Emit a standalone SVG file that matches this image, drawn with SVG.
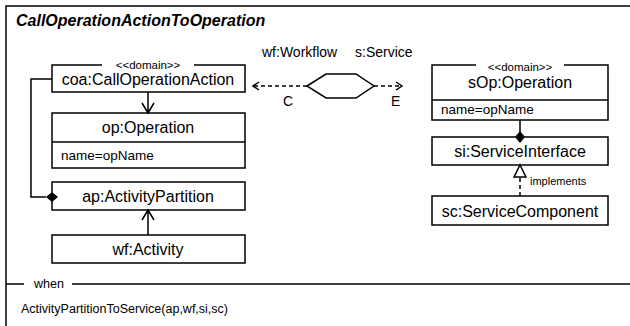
<svg xmlns="http://www.w3.org/2000/svg" width="630" height="326" viewBox="0 0 630 326">
<style>
text{font-family:"Liberation Sans",Arial,sans-serif;fill:#000}
.box{fill:#fff;stroke:#000;stroke-width:1.5}
.ln{fill:none;stroke:#000;stroke-width:1.5}
.dash{fill:none;stroke:#000;stroke-width:1.5;stroke-dasharray:4 3}
.name{font-size:16px;text-anchor:middle}
.attr{font-size:13.5px}
.st{font-size:11.5px;text-anchor:middle}
.lbl{font-size:14px}
</style>
<rect width="630" height="326" fill="#fff"/>
<g id="frame">
<path class="ln" d="M6,326 V6 H630"/>
<path class="ln" d="M6,284 H24 M72,284 H630"/>
<text x="16" y="26" style="font-size:16px;font-weight:bold;font-style:italic">CallOperationActionToOperation</text>
<text x="34" y="288" style="font-size:12.5px">when</text>
<text x="21" y="313" style="font-size:12.5px">ActivityPartitionToService(ap,wf,si,sc)</text>
</g>
<g id="process">
<polygon class="box" points="307,86 326,74 356,74 374,86 356,98 326,98"/>
<text class="lbl" x="262" y="57">wf:Workflow</text>
<text class="lbl" x="355" y="57">s:Service</text>
</g>
<g id="coa">
<rect class="box" x="52" y="65" width="193" height="27"/>
<rect x="102" y="62" width="92" height="6" fill="#fff"/>
<text class="st" x="148" y="69">&lt;&lt;domain&gt;&gt;</text>
<text class="name" x="148" y="85">coa:CallOperationAction</text>
</g>
<g id="op">
<rect class="box" x="52" y="113" width="193" height="55"/>
<path class="ln" d="M52,142 H245"/>
<text class="name" x="148" y="133">op:Operation</text>
<text class="attr" x="61" y="160">name=opName</text>
</g>
<g id="ap">
<rect class="box" x="52" y="182" width="193" height="28"/>
<text class="name" x="148" y="202">ap:ActivityPartition</text>
</g>
<g id="wf">
<rect class="box" x="52" y="235" width="193" height="28"/>
<text class="name" x="148" y="255">wf:Activity</text>
</g>
<g id="sOp">
<rect class="box" x="432" y="65" width="176" height="55"/>
<path class="ln" d="M432,100 H608"/>
<rect x="476" y="62" width="88" height="6" fill="#fff"/>
<text class="st" x="520" y="71">&lt;&lt;domain&gt;&gt;</text>
<text class="name" x="520" y="88">sOp:Operation</text>
<text class="attr" x="441" y="114">name=opName</text>
</g>
<g id="si">
<rect class="box" x="432" y="137" width="176" height="28"/>
<text class="name" x="520" y="157">si:ServiceInterface</text>
</g>
<g id="sc">
<rect class="box" x="432" y="196" width="176" height="29"/>
<text class="name" x="520" y="217">sc:ServiceComponent</text>
</g>
<g id="connectors">
<path class="ln" d="M52,79 H31 V197 H46"/>
<path d="M46,197 L52,192 L58,197 L52,202 Z" fill="#000"/>
<path class="ln" d="M148,92 V113 M142,103 L148,113 L154,103"/>
<path class="ln" d="M148,235 V210 M142,220 L148,210 L154,220"/>
<path class="ln" d="M520,120 V132"/>
<path d="M520,131 L525,137 L520,143 L515,137 Z" fill="#000"/>
<path class="dash" d="M520,196 V177"/>
<path d="M520,165 L526,177 L514,177 Z" fill="#fff" stroke="#000" stroke-width="1.5"/>
<text x="530" y="185" style="font-size:11px">implements</text>
<path class="dash" d="M307,86 H253"/>
<path class="ln" d="M259,82 L253,86 L259,90"/>
<path class="dash" d="M374,86 H402"/>
<path class="ln" d="M396,82 L402,86 L396,90"/>
<text class="lbl" x="283" y="106">C</text>
<text class="lbl" x="391" y="106">E</text>
</g>
</svg>
